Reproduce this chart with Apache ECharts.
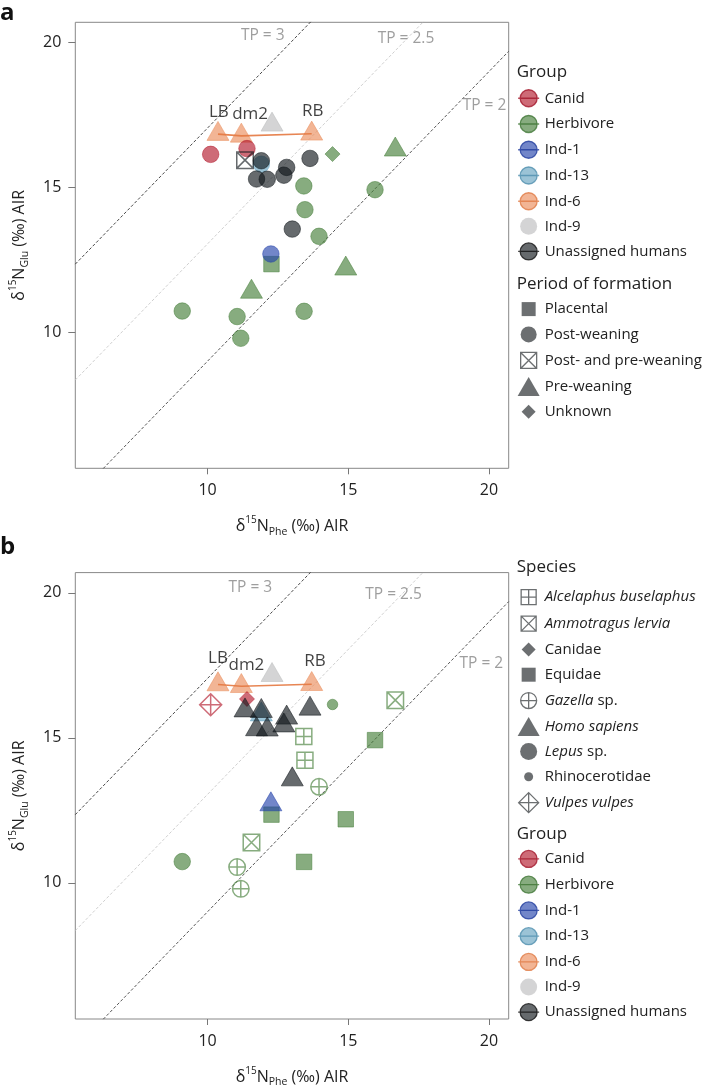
<!DOCTYPE html>
<html><head><meta charset="utf-8">
<script src="https://cdn.jsdelivr.net/npm/echarts@6/dist/echarts.min.js"></script>
<style>html,body{margin:0;padding:0;background:#fff}#c{width:706px;height:1091px}</style>
</head><body><div id="c"></div>
<script>
// ---------- data ----------
const phe = [10.11, 11.40, 11.33, 11.91, 11.91, 11.74, 12.12, 12.81, 12.71, 13.64, 13.01, 14.44, 16.67, 13.42, 13.46, 13.96, 15.95, 12.25, 12.27, 14.91, 11.56, 9.10, 11.05, 11.18, 13.43, 10.37, 11.20, 13.70, 12.29];
const glu = [16.14, 16.34, 15.94, 15.80, 15.92, 15.29, 15.28, 15.69, 15.42, 16.00, 13.56, 16.15, 16.30, 15.05, 14.23, 13.31, 14.92, 12.70, 12.35, 12.19, 11.39, 10.73, 10.54, 9.79, 10.72, 16.84, 16.78, 16.85, 17.16];
const group = ['Canid','Canid','Unassigned humans','Ind-13','Unassigned humans','Unassigned humans','Unassigned humans','Unassigned humans','Unassigned humans','Unassigned humans','Unassigned humans','Herbivore','Herbivore','Herbivore','Herbivore','Herbivore','Herbivore','Ind-1','Herbivore','Herbivore','Herbivore','Herbivore','Herbivore','Herbivore','Herbivore','Ind-6','Ind-6','Ind-6','Ind-9'];
const period = ['Post-weaning','Post-weaning','Post- and pre-weaning','Post-weaning','Post-weaning','Post-weaning','Post-weaning','Post-weaning','Post-weaning','Post-weaning','Post-weaning','Unknown','Pre-weaning','Post-weaning','Post-weaning','Post-weaning','Post-weaning','Post-weaning','Placental','Pre-weaning','Pre-weaning','Post-weaning','Post-weaning','Post-weaning','Post-weaning','Pre-weaning','Pre-weaning','Pre-weaning','Pre-weaning'];
const species = ['Vulpes vulpes','Canidae','Homo sapiens','Homo sapiens','Homo sapiens','Homo sapiens','Homo sapiens','Homo sapiens','Homo sapiens','Homo sapiens','Homo sapiens','Rhinocerotidae','Ammotragus lervia','Alcelaphus buselaphus','Alcelaphus buselaphus','Gazella sp.','Equidae','Homo sapiens','Equidae','Equidae','Ammotragus lervia','Lepus sp.','Gazella sp.','Gazella sp.','Equidae','Homo sapiens','Homo sapiens','Homo sapiens','Homo sapiens'];

const groupNames = ['Canid','Herbivore','Ind-1','Ind-13','Ind-6','Ind-9','Unassigned humans'];
const periodNames = ['Placental','Post-weaning','Post- and pre-weaning','Pre-weaning','Unknown'];
const speciesNames = ['Alcelaphus buselaphus','Ammotragus lervia','Canidae','Equidae','Gazella sp.','Homo sapiens','Lepus sp.','Rhinocerotidae','Vulpes vulpes'];

// Ind-6 tooth labels
const boneText = ['LB','dm2','RB'];
const boneLabelXA = [10.40, 11.51, 13.74];
const boneLabelYA = [17.60, 17.53, 17.64];
const boneLabelXB = [10.37, 11.38, 13.82];
const boneLabelYB = [17.75, 17.50, 17.64];

// trophic position reference lines: Glu = Phe + offset
const tpText = ['TP = 3','TP = 2.5','TP = 2'];
const tpOffset = [7.05, 3.05, -1.0];
const tpLabelXA = [11.96, 17.05, 19.84];
const tpLabelYA = [20.25, 20.15, 17.81];
const tpLabelXB = [11.52, 16.61, 19.73];
const tpLabelYB = [20.20, 19.93, 17.55];

const axisMin = 5.3, axisMax = 20.7;
const tickValues = [10, 15, 20];

// ---------- styles ----------
const FONT = 'Open Sans';
const groupFill = {'Canid':'rgba(178,24,43,0.8)','Herbivore':'rgba(68,125,55,0.8)','Ind-1':'rgba(35,65,170,0.8)','Ind-13':'rgba(99,161,191,0.8)','Ind-6':'rgba(234,139,89,0.8)','Ind-9':'rgba(187,188,189,0.8)','Unassigned humans':'rgba(16,22,26,0.8)'};
const groupLine = {'Canid':'#a3162a','Herbivore':'#3f7534','Ind-1':'#203c9e','Ind-13':'#4f8fae','Ind-6':'#e07a45','Ind-9':'#b0b1b2','Unassigned humans':'#111'};
const SQX = 'path://M0,0 L20,0 L20,20 L0,20 Z M0,0 L20,20 M20,0 L0,20';
const SQP = 'path://M0,0 L20,0 L20,20 L0,20 Z M10,0 L10,20 M0,10 L20,10';
const CIP = 'path://M0,10 A10,10 0 1 1 20,10 A10,10 0 1 1 0,10 Z M10,0 L10,20 M0,10 L20,10';
const DIP = 'path://M10,0 L20,10 L10,20 L0,10 Z M10,0 L10,20 M0,10 L20,10';
const shapes = {
  circle:{symbol:'circle', size:16.5},
  triangle:{symbol:'triangle', size:[22,19], offset:[0,-3.2]},
  square:{symbol:'rect', size:15.5},
  diamond:{symbol:'diamond', size:[15,15]},
  xsquare:{symbol:SQX, size:16.5, open:true},
  psquare:{symbol:SQP, size:16, open:true},
  pcircle:{symbol:CIP, size:16.5, open:true},
  pdiamond:{symbol:DIP, size:[22,22], open:true},
  small:{symbol:'circle', size:10.5}
};
const periodShape = {'Placental':'square','Post-weaning':'circle','Post- and pre-weaning':'xsquare','Pre-weaning':'triangle','Unknown':'diamond'};
const speciesShape = {'Alcelaphus buselaphus':'psquare','Ammotragus lervia':'xsquare','Canidae':'diamond','Equidae':'square','Gazella sp.':'pcircle','Homo sapiens':'triangle','Lepus sp.':'circle','Rhinocerotidae':'small','Vulpes vulpes':'pdiamond'};

// legend icons (frame 22x20)
const FR = 'M0,0 L0,0 M22,20 L22,20 ';
const circ = (cx, cy, r) => `M${cx-r},${cy} A${r},${r} 0 1 1 ${cx+r},${cy} A${r},${r} 0 1 1 ${cx-r},${cy} Z `;
const ICON = {
  grpLine: 'path://' + FR + circ(11,10,8.5) + 'M0.5,10 L21.5,10',
  grpNoLine: 'path://' + FR + circ(11,10,8.5),
  square: 'path://' + FR + 'M4,3 L18,3 L18,17 L4,17 Z',
  circle: 'path://' + FR + circ(11,10,8),
  xsquare: 'path://' + FR + 'M3,2 L19,2 L19,18 L3,18 Z M3,2 L19,18 M19,2 L3,18',
  triangle: 'path://' + FR + 'M11,0.5 L22,19.5 L0,19.5 Z',
  diamond: 'path://' + FR + 'M11,3 L18,10 L11,17 L4,10 Z',
  psquare: 'path://' + FR + 'M3.5,2.5 L18.5,2.5 L18.5,17.5 L3.5,17.5 Z M11,2.5 L11,17.5 M3.5,10 L18.5,10',
  xsquare2: 'path://' + FR + 'M3.5,2.5 L18.5,2.5 L18.5,17.5 L3.5,17.5 Z M3.5,2.5 L18.5,17.5 M18.5,2.5 L3.5,17.5',
  pcircle: 'path://' + FR + circ(11,10,8) + 'M11,2 L11,18 M3,10 L19,10',
  bigcircle: 'path://' + FR + circ(11,10,8.5),
  small: 'path://' + FR + circ(11,10,4.5),
  pdiamond: 'path://' + FR + 'M11,0 L21,10 L11,20 L1,10 Z M11,0 L11,20 M1,10 L21,10'
};
const SHAPE_COL = '#474b4e';
const periodIcon = {'Placental':['square',false],'Post-weaning':['circle',false],'Post- and pre-weaning':['xsquare',true],'Pre-weaning':['triangle',false],'Unknown':['diamond',false]};
const speciesIcon = {'Alcelaphus buselaphus':['psquare',true],'Ammotragus lervia':['xsquare2',true],'Canidae':['diamond',false],'Equidae':['square',false],'Gazella sp.':['pcircle',true],'Homo sapiens':['triangle',false],'Lepus sp.':['bigcircle',false],'Rhinocerotidae':['small',false],'Vulpes vulpes':['pdiamond',true]};

// ---------- build ----------
const series = [];
const drawOrder = ['Ind-6','Ind-9','Herbivore','Canid','Ind-13','Unassigned humans','Ind-1'];

function buildPanel(p, shapeOf, boneX, boneY, tpX, tpY) {
  const tpColors = ['#333','#c9c9c9','#444'];
  tpOffset.forEach((off, k) => {
    series.push({type:'line', xAxisIndex:p, yAxisIndex:p, silent:true, symbol:'none', clip:true, z:1,
      data:[[axisMin, axisMin + off],[axisMax, axisMax + off]],
      lineStyle:{color:tpColors[k], width:0.9, type:[3,2]}});
  });
  series.push({type:'scatter', xAxisIndex:p, yAxisIndex:p, silent:true, symbolSize:1, z:2,
    itemStyle:{color:'rgba(0,0,0,0)'},
    label:{show:true, position:'inside', formatter:(d)=>tpText[d.dataIndex], color:'#868686', fontSize:15.5, fontFamily:FONT},
    data: tpText.map((t,k)=>[tpX[k], tpY[k]])});
  drawOrder.forEach(g => {
    const data = [];
    phe.forEach((x, i) => {
      if (group[i] !== g) return;
      const s = shapes[shapeOf(i)];
      const item = {value:[x, glu[i]], symbol:s.symbol, symbolSize:s.size};
      if (s.offset) item.symbolOffset = s.offset;
      if (s.open) item.itemStyle = {color:'rgba(0,0,0,0)', borderColor:groupFill[g], borderWidth:1.5};
      data.push(item);
    });
    series.push({type:'scatter', name:g, xAxisIndex:p, yAxisIndex:p, z:3, data,
      itemStyle:{color:groupFill[g], borderColor:groupFill[g], borderWidth:0.8}});
  });
  const idx6 = phe.map((x,i)=>i).filter(i=>group[i]==='Ind-6').sort((a,b)=>phe[a]-phe[b]);
  series.push({type:'line', name:'Ind-6 path', xAxisIndex:p, yAxisIndex:p, silent:true, symbol:'none', z:4,
    data: idx6.map(i=>[phe[i], glu[i]]), lineStyle:{color:'rgba(228,120,64,0.9)', width:1.6}});
  series.push({type:'scatter', xAxisIndex:p, yAxisIndex:p, silent:true, symbolSize:1, z:5,
    itemStyle:{color:'rgba(0,0,0,0)'},
    label:{show:true, position:'inside', formatter:(d)=>boneText[d.dataIndex], color:'#111', fontSize:17, fontFamily:FONT},
    data: boneText.map((t,k)=>[boneX[k], boneY[k]])});
}
buildPanel(0, i=>periodShape[period[i]], boneLabelXA, boneLabelYA, tpLabelXA, tpLabelYA);
buildPanel(1, i=>speciesShape[species[i]], boneLabelXB, boneLabelYB, tpLabelXB, tpLabelYB);

periodNames.forEach(n => series.push({type:'scatter', name:n, data:[], xAxisIndex:0, yAxisIndex:0, itemStyle:{color:SHAPE_COL}}));
speciesNames.forEach(n => series.push({type:'scatter', name:n, data:[], xAxisIndex:1, yAxisIndex:1, itemStyle:{color:SHAPE_COL}}));

const nameRich = {
  a:{fontSize:16, fontFamily:FONT, color:'#222', lineHeight:22},
  s:{fontSize:10, fontFamily:FONT, color:'#222', lineHeight:15, verticalAlign:'top'},
  b:{fontSize:10.5, fontFamily:FONT, color:'#222', lineHeight:10, verticalAlign:'bottom'}
};
function xAxisCfg(gi) {
  return {type:'value', gridIndex:gi, min:axisMin, max:axisMax,
    name:'{a|δ}{s|15}{a|N}{b|Phe}{a| (‰) AIR}', nameLocation:'middle', nameGap:47,
    nameTextStyle:{rich:nameRich},
    axisLine:{show:false}, splitLine:{show:false},
    axisTick:{show:true, length:6, customValues:tickValues, lineStyle:{color:'#777'}},
    axisLabel:{customValues:tickValues, margin:14.5, fontSize:16, color:'#222', fontFamily:FONT}};
}
function yAxisCfg(gi) {
  return {type:'value', gridIndex:gi, min:axisMin, max:axisMax,
    name:'{a|δ}{s|15}{a|N}{b|Glu}{a| (‰) AIR}', nameLocation:'middle', nameGap:45,
    nameTextStyle:{rich:nameRich},
    axisLine:{show:false}, splitLine:{show:false},
    axisTick:{show:true, length:7, customValues:tickValues, lineStyle:{color:'#777'}},
    axisLabel:{customValues:tickValues, margin:14, fontSize:16, color:'#222', fontFamily:FONT}};
}

const legendBase = {orient:'vertical', left:517, itemWidth:22, itemHeight:20, selectedMode:false, padding:0,
  textStyle:{fontSize:15, color:'#222', fontFamily:FONT, lineHeight:20}};
function groupLegend(top) {
  return Object.assign({}, legendBase, {top, itemGap:4.45, data: groupNames.map(g => ({
    name:g, icon: g === 'Ind-9' ? ICON.grpNoLine : ICON.grpLine,
    itemStyle:{color:groupFill[g], borderColor:g === 'Ind-9' ? 'rgba(0,0,0,0)' : groupLine[g], borderWidth:g === 'Ind-9' ? 0 : 1.3}}))});
}
function shapeLegendItem(n, spec) {
  const [ic, open] = spec;
  return {name:n, icon:ICON[ic], itemStyle: open ? {color:'rgba(0,0,0,0)', borderColor:SHAPE_COL, borderWidth:1.3} : {color:SHAPE_COL, borderColor:'rgba(0,0,0,0)', borderWidth:0}};
}
const italicFull = ['Alcelaphus buselaphus','Ammotragus lervia','Homo sapiens','Vulpes vulpes'];
const legends = [
  groupLegend(87.6),
  Object.assign({}, legendBase, {top:299.1, itemGap:5.35, data: periodNames.map(n => shapeLegendItem(n, periodIcon[n]))}),
  Object.assign({}, legendBase, {top:586.5, itemGap:5.2, data: speciesNames.map(n => shapeLegendItem(n, speciesIcon[n])),
    formatter: (n) => italicFull.includes(n) ? '{i|' + n + '}' : (n.endsWith(' sp.') ? '{i|' + n.replace(' sp.','') + '}{n| sp.}' : '{n|' + n + '}'),
    textStyle:{fontSize:15, color:'#222', fontFamily:FONT, lineHeight:20,
      rich:{i:{fontStyle:'italic', fontSize:15, color:'#222', fontFamily:FONT, lineHeight:20}, n:{fontSize:15, color:'#222', fontFamily:FONT, lineHeight:20}}}}),
  groupLegend(848.3)
];

const titleStyle = {fontSize:17, fontWeight:'normal', color:'#222', fontFamily:FONT, lineHeight:20};
const titles = [
  {text:'a', left:0, top:1, padding:0, textStyle:{fontSize:24, fontWeight:'bold', color:'#111', fontFamily:FONT}},
  {text:'b', left:0, top:535, padding:0, textStyle:{fontSize:24, fontWeight:'bold', color:'#111', fontFamily:FONT}},
  {text:'Group', left:516.7, top:61.7, padding:0, textStyle:titleStyle},
  {text:'Period of formation', left:516.7, top:274, padding:0, textStyle:titleStyle},
  {text:'Species', left:516.7, top:556.7, padding:0, textStyle:titleStyle},
  {text:'Group', left:516.7, top:824, padding:0, textStyle:titleStyle}
];

const chart = echarts.init(document.getElementById('c'), null, {renderer:'canvas'});
chart.setOption({
  animation:false,
  backgroundColor:'#fff',
  title: titles,
  legend: legends,
  grid:[
    {left:75.3, top:22.3, width:433.4, height:446, show:true, borderColor:'#888', borderWidth:1, backgroundColor:'rgba(0,0,0,0)'},
    {left:75.3, top:572.6, width:433.4, height:446.4, show:true, borderColor:'#888', borderWidth:1, backgroundColor:'rgba(0,0,0,0)'}
  ],
  xAxis:[xAxisCfg(0), xAxisCfg(1)],
  yAxis:[yAxisCfg(0), yAxisCfg(1)],
  series
});
</script></body></html>
